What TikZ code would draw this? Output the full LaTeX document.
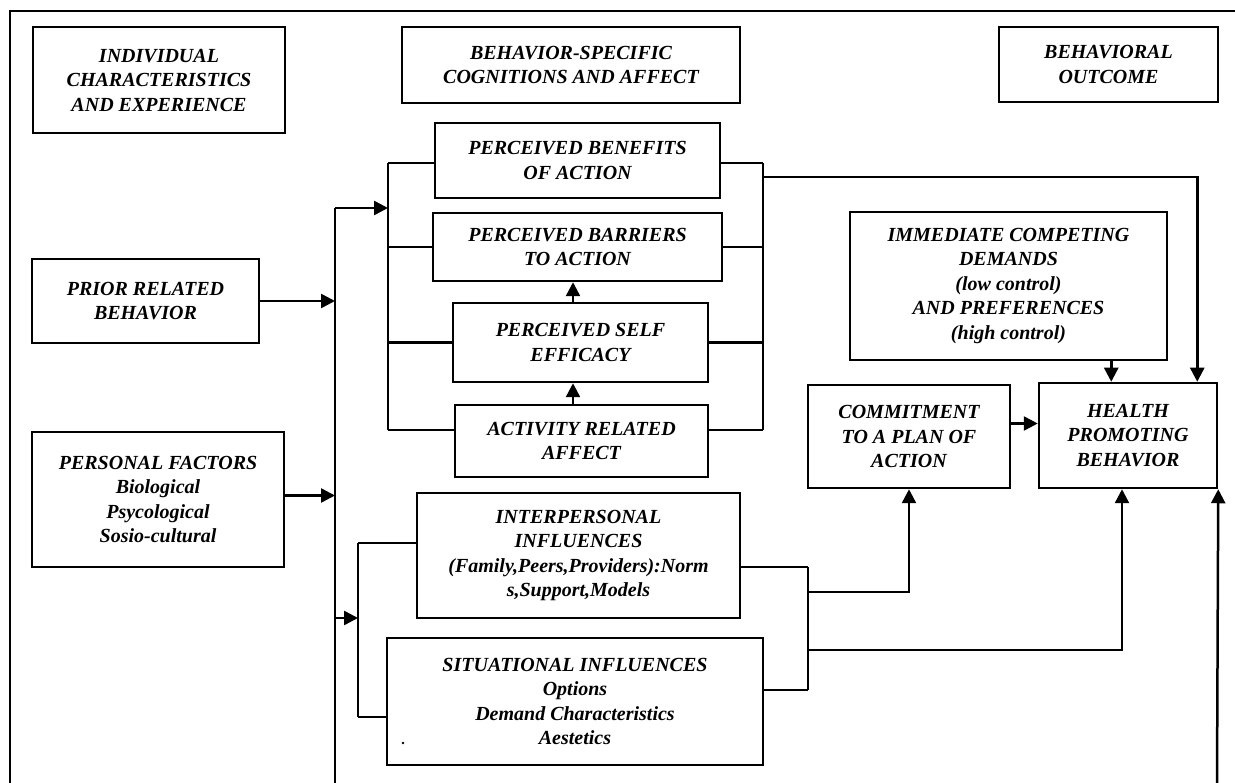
\documentclass[tikz,border=0pt]{standalone}
\usepackage{fontspec}
\setmainfont{Liberation Serif}
\usetikzlibrary{arrows.meta}
\tikzset{
  box/.style={draw,line width=2.5pt,align=center,inner sep=0pt,
    font=\fontsize{20}{24.5}\selectfont\bfseries\itshape},
  wire/.style={line width=2.5pt},
  arr/.style={line width=2.5pt,-{Triangle[length=14pt,width=14pt]}}
}
\begin{document}
\begin{tikzpicture}[x=1pt,y=-1pt]
\useasboundingbox (0,0) rectangle (1235,783);
% frame
\draw [wire] (10,783)-- (10,11)-- (1235,11);
% column heads
\node[box,minimum width=252,minimum height=106] (indiv) at (159,80) {INDIVIDUAL\\CHARACTERISTICS\\AND EXPERIENCE};
\node[box,minimum width=338,minimum height=76] (cogn) at (571,65) {BEHAVIOR-SPECIFIC\\COGNITIONS AND AFFECT};
\node[box,minimum width=219,minimum height=75] (outc) at (1108.5,64.5) {BEHAVIORAL\\OUTCOME};
% left column
\node[box,minimum width=227,minimum height=84] (prior) at (145.5,301) {PRIOR RELATED\\BEHAVIOR};
\node[box,minimum width=252,minimum height=135] (personal) at (158,499.5) {PERSONAL FACTORS\\Biological\\Psycological\\Sosio-cultural};
% middle column
\node[box,minimum width=285,minimum height=75] (benefits) at (577.5,160.5) {PERCEIVED BENEFITS\\OF ACTION};
\node[box,minimum width=289,minimum height=68] (barriers) at (577.5,247) {PERCEIVED BARRIERS\\TO ACTION};
\node[box,minimum width=255,minimum height=79] (selfeff) at (580.5,342.5) {PERCEIVED SELF\\EFFICACY};
\node[box,minimum width=253,minimum height=72] (activity) at (581.5,441) {ACTIVITY RELATED\\AFFECT};
\node[box,minimum width=323,minimum height=125] (interp) at (578.5,555.5) {INTERPERSONAL\\INFLUENCES\\(Family,Peers,Providers):Norm\\s,Support,Models};
\node[box,minimum width=376,minimum height=127] (situ) at (575,701.5) {SITUATIONAL INFLUENCES\\Options\\Demand Characteristics\\Aestetics};
\fill (403,743) circle (1.4);
% right column
\node[box,minimum width=317,minimum height=148] (immed) at (1008.5,286) {IMMEDIATE COMPETING\\DEMANDS\\(low control)\\AND PREFERENCES\\(high control)};
\node[box,minimum width=202,minimum height=103] (commit) at (909,436.5) {COMMITMENT\\TO A PLAN OF\\ACTION};
\node[box,minimum width=178,minimum height=105] (health) at (1128,435.5) {HEALTH\\PROMOTING\\BEHAVIOR};
% bus points
\coordinate (top) at (335,208);
\coordinate (bot) at (335,783);
\coordinate (cl1) at (388,163);
\coordinate (cl2) at (388,430);
\coordinate (cr1) at (763,163);
\coordinate (cr2) at (763,430);
\coordinate (out) at (763,177);
\coordinate (ax) at (573,0);
\coordinate (il1) at (358,543);
\coordinate (il2) at (358,717);
\coordinate (ir1) at (808,567);
\coordinate (ir2) at (808,690);
\coordinate (ic) at (808,592);
\coordinate (ih) at (808,650);
\coordinate (br) at (1217,783);
% main line
\draw [wire] (bot)-- (top);
\draw [arr] (prior.east)-- (prior.east -| top);
\draw [arr] ([yshift=4pt]personal.east)-- ([yshift=4pt]personal.east -| top);
\draw [arr] (top)-- (top -| cl1);
% cognitions bus
\draw [wire] (cl1)-- (cl2);
\draw [wire] (cr1)-- (cr2);
\draw [wire] (cl1)-- (cl1 -| benefits.west);
\draw [wire] (cr1)-- (cr1 -| benefits.east);
\draw [wire] (barriers.west -| cl1)-- (barriers.west);
\draw [wire] (barriers.east)-- (barriers.east -| cr1);
\draw [wire] (selfeff.west -| cl1)-- (selfeff.west);
\draw [wire] (selfeff.east)-- (selfeff.east -| cr1);
\draw [wire] (cl2)-- (cl2 -| activity.west);
\draw [wire] (cr2)-- (cr2 -| activity.east);
\draw [arr] (selfeff.north -| ax)-- (barriers.south -| ax);
\draw [arr] (activity.north -| ax)-- (selfeff.south -| ax);
\draw [arr] (out)-| ([xshift=-21pt]health.north east);
% influences bus
\draw [arr] (top |- 0,618)-- (il1 |- 0,618);
\draw [wire] (il1)-- (il2);
\draw [wire] (il1)-- (il1 -| interp.west);
\draw [wire] (il2)-- (il2 -| situ.west);
\draw [wire] (ir1)-- (ir2);
\draw [wire] (ir1 -| interp.east)-- (ir1);
\draw [wire] (ir2 -| situ.east)-- (ir2);
\draw [arr] (ic)-| (commit.south);
\draw [arr] (ih)-| ([xshift=-6pt]health.south);
% into health promoting behavior
\draw [arr] ([xshift=-57pt]immed.south east)-- ([xshift=-57pt]immed.south east |- health.north);
\draw [arr] ([yshift=13pt]commit.east)-- ([yshift=13pt]commit.east -| health.west);
\draw [arr] (br)-- (health.south east);
\end{tikzpicture}
\end{document}
